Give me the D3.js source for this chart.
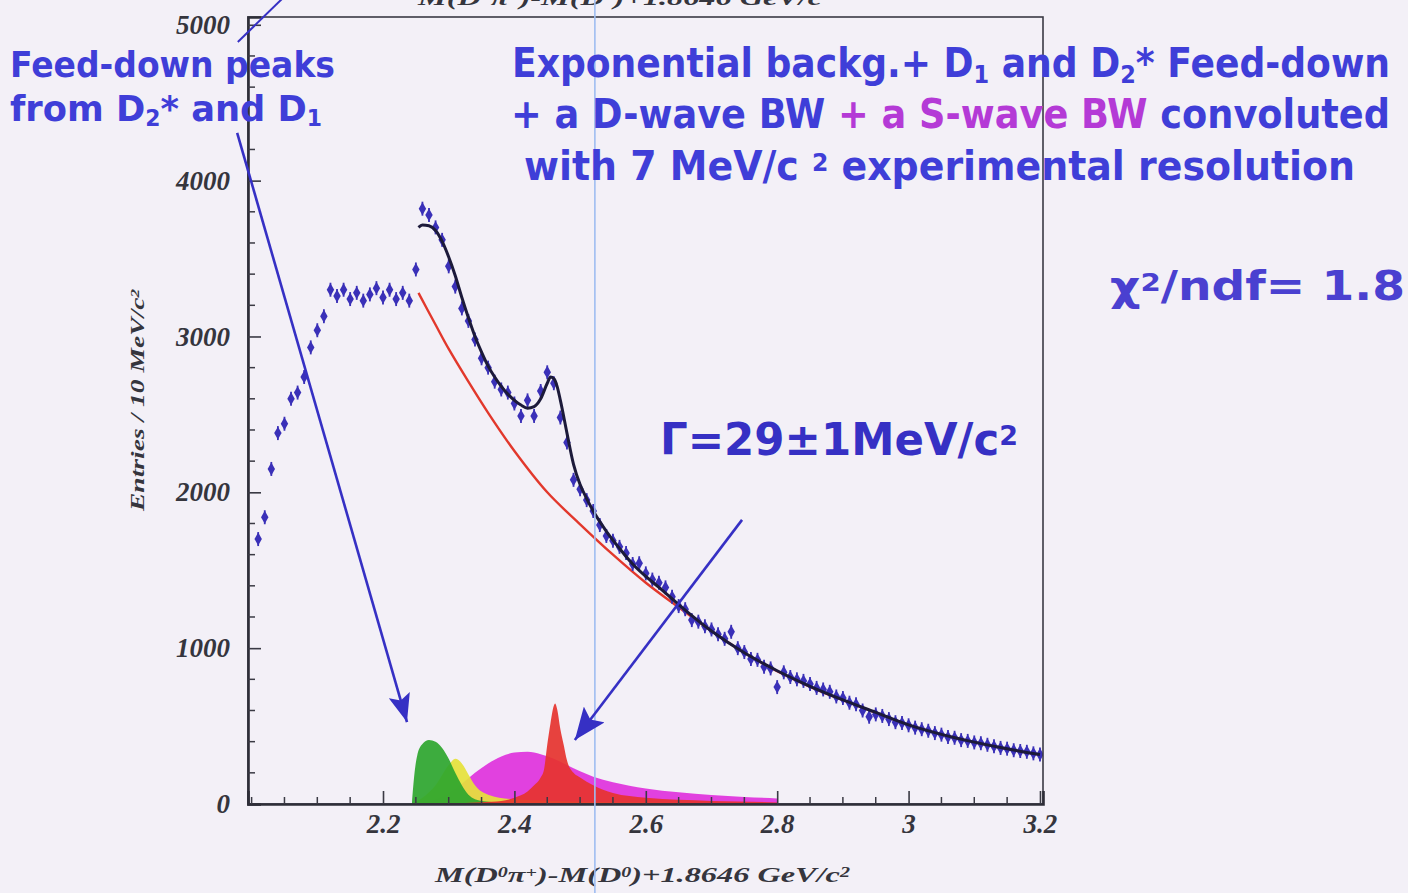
<!DOCTYPE html>
<html><head><meta charset="utf-8">
<script src="https://cdn.jsdelivr.net/npm/d3@7"></script>
<style>
html,body{margin:0;padding:0;background:#f3f0f7;overflow:hidden}
svg{display:block}
</style></head><body>
<svg id="c" width="1408" height="893"></svg>
<script>
// ---------------- DATA ----------------
const binStart = 2.01, binWidth = 0.01;
const counts = [
 1700,1840,2150,2380,2440,2600,2640,2740,2930,3040,
 3130,3300,3260,3300,3240,3280,3230,3270,3310,3250,
 3300,3240,3280,3230,3430,3820,3780,3700,3620,3450,
 3320,3180,3100,2980,2860,2800,2710,2660,2640,2570,
 2490,2590,2490,2650,2770,2700,2480,2320,2080,2020,
 1950,1880,1790,1720,
 1690,1650,1610,1540,1545,1480,1440,1420,1390,1330,
 1270,1250,1180,1170,1140,1120,1090,1060,1105,1000,
 975,930,925,880,870,750,845,815,800,790,
 770,745,735,720,690,680,650,640,600,560,
 575,565,545,525,520,505,490,480,470,455,
 445,430,425,410,405,395,390,380,370,360,
 355,345,340,335,325,318
];
const fitX = [2.254,2.26,2.27,2.28,2.29,2.30,2.31,2.32,2.33,2.34,2.35,2.36,2.37,2.38,2.39,2.40,2.41,2.42,2.43,2.44,2.45,2.455,2.46,2.465,2.47,2.48,2.49,2.50,2.51,2.52,2.54,2.56,2.58,2.60,2.62,2.65,2.70,2.75,2.80,2.85,2.90,2.95,3.00,3.05,3.10,3.15,3.20];
const fitY = [3700,3715,3710,3680,3610,3510,3390,3250,3120,3000,2900,2810,2740,2680,2630,2590,2560,2540,2550,2600,2700,2740,2730,2680,2590,2380,2180,2050,1960,1880,1750,1640,1540,1460,1390,1280,1110,970,855,755,668,588,508,447,397,354,317];
const bkgX = [2.254,2.28,2.30,2.33,2.36,2.40,2.45,2.50,2.55,2.60,2.65,2.70,2.75,2.80,2.85,2.90,2.95,3.00,3.05,3.10,3.15,3.20];
const bkgY = [3280,3075,2920,2710,2510,2265,2000,1795,1600,1420,1262,1110,970,852,752,666,586,508,447,396,353,316];
const greenX = [2.244,2.248,2.252,2.26,2.27,2.28,2.29,2.30,2.31,2.32,2.33,2.35,2.40,2.50,2.60,2.80];
const greenY = [0,200,310,385,410,400,360,290,200,120,60,20,6,4,3,2];
const yellowX = [2.244,2.26,2.28,2.30,2.31,2.32,2.33,2.34,2.36,2.40,2.50,2.60,2.80];
const yellowY = [0,40,120,250,290,260,190,120,60,30,15,10,6];
const magentaX = [2.25,2.28,2.30,2.32,2.34,2.36,2.38,2.40,2.42,2.44,2.46,2.48,2.50,2.52,2.55,2.60,2.65,2.70,2.75,2.80,2.801];
const magentaY = [0,30,70,130,200,260,305,330,335,320,290,250,210,175,140,100,75,58,45,35,0];
const redX = [2.25,2.30,2.35,2.38,2.40,2.42,2.43,2.44,2.445,2.45,2.455,2.46,2.462,2.465,2.47,2.475,2.48,2.49,2.50,2.52,2.55,2.60,2.70,2.80,2.801];
const redY = [0,5,12,20,40,80,120,170,220,380,520,630,645,610,480,380,280,200,170,120,70,40,20,10,0];
const xTicks = [2.2,2.4,2.6,2.8,3,3.2];
const xTickLabels = ["2.2","2.4","2.6","2.8","3","3.2"];
const yTicks = [0,1000,2000,3000,4000,5000];
const yTickLabels = ["0","1000","2000","3000","4000","5000"];

// ---------------- SETUP ----------------
const svg = d3.select("#c");
const W = 1408, H = 893;
const x = d3.scaleLinear().domain([1.9945, 3.2046]).range([248, 1043]);
const y = d3.scaleLinear().domain([0, 5050]).range([804, 17]);
const BLUE = "#3f3ed8", DARKBLUE = "#3630c4", MAG = "#b43ad6";
const COMIC = "'Comic Sans MS','DejaVu Sans',sans-serif";
const SERIF = "'Liberation Serif','DejaVu Serif',serif";

svg.append("rect").attr("width", W).attr("height", H).attr("fill", "#f3f0f7");

const defs = svg.append("defs");
defs.append("clipPath").attr("id", "plot")
  .append("rect").attr("x", x.range()[0]).attr("y", y.range()[1])
  .attr("width", x.range()[1] - x.range()[0]).attr("height", y.range()[0] - y.range()[1]);
function arrowMarker(id, len, wid) {
  defs.append("marker").attr("id", id).attr("viewBox", `0 0 ${len} ${wid}`)
    .attr("refX", len).attr("refY", wid / 2).attr("markerUnits", "userSpaceOnUse")
    .attr("markerWidth", len).attr("markerHeight", wid).attr("orient", "auto")
    .append("path").attr("d", `M0,0 L${len},${wid/2} L0,${wid} L${len*0.2},${wid/2} Z`).attr("fill", DARKBLUE);
}
arrowMarker("ah1", 28, 22);
arrowMarker("ah2", 32, 26);

const plot = svg.append("g").attr("clip-path", "url(#plot)");

// component fills
function area(xs, ys, color, op) {
  const pts = xs.map((d, i) => [d, ys[i]]);
  plot.append("path").datum(pts)
    .attr("d", d3.area().x(d => x(d[0])).y0(y(0)).y1(d => y(d[1])).curve(d3.curveMonotoneX))
    .attr("fill", color).attr("fill-opacity", op);
}
area(magentaX, magentaY, "#e032dc", 0.92);
area(yellowX, yellowY, "#e6e23a", 0.92);
area(greenX, greenY, "#2ea62e", 0.92);
area(redX, redY, "#e6332e", 0.92);

// background curve
plot.append("path").datum(bkgX.map((d, i) => [d, bkgY[i]]))
  .attr("d", d3.line().x(d => x(d[0])).y(d => y(d[1])).curve(d3.curveCatmullRom))
  .attr("fill", "none").attr("stroke", "#e2382c").attr("stroke-width", 2.4);

// data points
const pts = counts.map((c, i) => [binStart + i * binWidth, c]);
const gPts = plot.append("g").attr("fill", "#3a30b8").attr("stroke", "#3a30b8");
gPts.selectAll("line").data(pts).join("line")
  .attr("x1", d => x(d[0])).attr("x2", d => x(d[0]))
  .attr("y1", d => y(d[1]) - 7).attr("y2", d => y(d[1]) + 7).attr("stroke-width", 1.8);
gPts.selectAll("path").data(pts).join("path")
  .attr("transform", d => `translate(${x(d[0])},${y(d[1])})`)
  .attr("d", d3.symbol(d3.symbolDiamond, 48)).attr("stroke", "none");

// fit line
plot.append("path").datum(fitX.map((d, i) => [d, fitY[i]]))
  .attr("d", d3.line().x(d => x(d[0])).y(d => y(d[1])).curve(d3.curveMonotoneX))
  .attr("fill", "none").attr("stroke", "#1c1a3a").attr("stroke-width", 3);

// frame
svg.append("rect").attr("x", x.range()[0]).attr("y", y.range()[1])
  .attr("width", x.range()[1] - x.range()[0]).attr("height", y.range()[0] - y.range()[1])
  .attr("fill", "none").attr("stroke", "#3a3a44").attr("stroke-width", 1.6);

// axes
const yAxis = svg.append("g").attr("transform", `translate(${x.range()[0]},0)`)
  .call(d3.axisLeft(y).tickValues(yTicks).tickFormat((d, i) => yTickLabels[i]).tickSize(-13).tickPadding(18));
const yMinor = d3.range(200, 5050, 200).filter(v => v % 1000 !== 0);
yAxis.selectAll(".minor").data(yMinor).join("line").attr("class", "minor")
  .attr("x1", 0).attr("x2", 7).attr("y1", d => y(d)).attr("y2", d => y(d))
  .attr("stroke", "#3a3a44").attr("stroke-width", 1.5);
const xAxis = svg.append("g").attr("transform", `translate(0,${y.range()[0]})`)
  .call(d3.axisBottom(x).tickValues(xTicks).tickFormat((d, i) => xTickLabels[i]).tickSize(-13).tickPadding(10));
const xMinor = d3.range(0, 25).map(i => 2.0 + i * 0.05).filter(v => !xTicks.some(t => Math.abs(t - v) < 1e-6));
xAxis.selectAll(".minor").data(xMinor).join("line").attr("class", "minor")
  .attr("x1", d => x(d)).attr("x2", d => x(d)).attr("y1", 0).attr("y2", -7)
  .attr("stroke", "#3a3a44").attr("stroke-width", 1.5);
[yAxis, xAxis].forEach(a => {
  a.select(".domain").attr("stroke", "#2e2e38").attr("stroke-width", 2.6);
  a.selectAll(".tick line").attr("stroke", "#3a3a44").attr("stroke-width", 1.6);
  a.selectAll(".tick text").attr("font-family", SERIF).attr("font-weight", "bold")
    .attr("font-style", "italic").attr("font-size", 27).attr("fill", "#35353d");
});

// axis titles
function richText(parent, px, py, parts, opts) {
  const t = parent.append("text").attr("x", px).attr("y", py)
    .attr("font-family", opts.font).attr("font-size", opts.size)
    .attr("font-weight", "bold").attr("fill", opts.fill || BLUE);
  if (opts.italic) t.attr("font-style", "italic");
  if (opts.anchor) t.attr("text-anchor", opts.anchor);
  if (opts.len) t.attr("textLength", opts.len).attr("lengthAdjust", "spacingAndGlyphs");
  if (opts.transform) t.attr("transform", opts.transform);
  parts.forEach(p => {
    const s = t.append("tspan").text(p.t);
    if (p.fill) s.attr("fill", p.fill);
    if (p.sub) s.attr("baseline-shift", "-22%").attr("font-size", opts.size * 0.62);
    if (p.sup) s.attr("baseline-shift", "38%").attr("font-size", opts.size * 0.62);
  });
  return t;
}
const xTitle = [{t:"M(D"},{t:"0",sup:1},{t:"π"},{t:"+",sup:1},{t:")-M(D"},{t:"0",sup:1},{t:")+1.8646 GeV/c"},{t:"2",sup:1}];
richText(svg, 435, 882, xTitle, {font: SERIF, size: 22, italic: 1, fill: "#35353d", len: 415});
richText(svg, 418, 5, xTitle, {font: SERIF, size: 20, italic: 1, fill: "#35353d", len: 414});
richText(svg, 0, 0, [{t:"Entries / 10 MeV/c"},{t:"2",sup:1}],
  {font: SERIF, size: 19, italic: 1, fill: "#35353d", len: 222, anchor: "middle", transform: "translate(144,400) rotate(-90)"});

// stray blue cursor line
svg.append("line").attr("x1", x(2.5225)).attr("x2", x(2.5225)).attr("y1", 0).attr("y2", H)
  .attr("stroke", "#9fbdf0").attr("stroke-width", 1.6);

// annotation arrows (data coordinates)
const ann = svg.append("g").attr("stroke", DARKBLUE).attr("fill", "none");
ann.append("line").attr("x1", x(2.046)).attr("y1", y(5165)).attr("x2", x(1.979)).attr("y2", y(4890)).attr("stroke-width", 2);
ann.append("line").attr("x1", x(1.978)).attr("y1", y(4307)).attr("x2", x(2.2365)).attr("y2", y(526))
  .attr("stroke-width", 2.6).attr("marker-end", "url(#ah1)");
ann.append("line").attr("x1", x(2.7465)).attr("y1", y(1823)).attr("x2", x(2.492)).attr("y2", y(411))
  .attr("stroke-width", 2.6).attr("marker-end", "url(#ah2)");

// annotation texts
richText(svg, 10, 77, [{t:"Feed-down peaks"}], {font: COMIC, size: 36, len: 325});
richText(svg, 10, 121, [{t:"from D"},{t:"2",sub:1},{t:"* and D"},{t:"1",sub:1}], {font: COMIC, size: 36, len: 312});
richText(svg, 512, 77, [{t:"Exponential backg.+ D"},{t:"1",sub:1},{t:" and D"},{t:"2",sub:1},{t:"* Feed-down"}], {font: COMIC, size: 40, len: 878});
richText(svg, 511, 128, [{t:"+ a  D-wave BW "},{t:"+ a S-wave BW",fill:MAG},{t:" convoluted"}], {font: COMIC, size: 40, len: 879});
richText(svg, 524, 180, [{t:"with 7 MeV/c "},{t:"2",sup:1},{t:"  experimental resolution"}], {font: COMIC, size: 40, len: 831});
richText(svg, 1110, 300, [{t:"χ"},{t:"2",sup:1},{t:"/ndf= 1.8"}], {font: COMIC, size: 40, len: 295, fill: "#4a40d0"});
richText(svg, 660, 455, [{t:"Γ=29±1MeV/c"},{t:"2",sup:1}], {font: COMIC, size: 44, len: 358, fill: DARKBLUE});
</script>
</body></html>
